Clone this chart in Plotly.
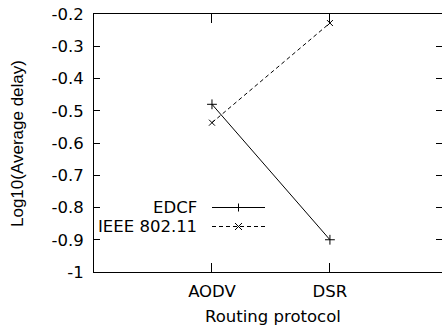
import plotly.graph_objects as go

categories = ["AODV", "DSR"]
cat_pos = [1, 2]
edcf = [-0.48, -0.90]
ieee = [-0.537, -0.228]
y_ticks = [-1, -0.9, -0.8, -0.7, -0.6, -0.5, -0.4, -0.3, -0.2]
y_tick_text = ["-1", "-0.9", "-0.8", "-0.7", "-0.6", "-0.5", "-0.4", "-0.3", "-0.2"]

FONT_H = "DejaVu Sans, Liberation Sans, Arial, sans-serif"
FONT_V = "Liberation Sans, Arial, Helvetica, sans-serif"
FS = 16.5
W, H = 443, 327
L, R, T, B = 94, 1, 14, 55

fig = go.Figure()
fig.add_trace(go.Scatter(
    x=cat_pos, y=edcf, mode="lines+markers", name="EDCF",
    line=dict(color="black", width=1),
    marker=dict(symbol="cross-thin-open", size=7, color="black", line=dict(width=1, color="black")),
    showlegend=False))
fig.add_trace(go.Scatter(
    x=cat_pos, y=ieee, mode="lines+markers", name="IEEE 802.11",
    line=dict(color="black", width=1, dash="4px,3px"),
    marker=dict(symbol="x-thin-open", size=6, color="black", line=dict(width=1, color="black")),
    showlegend=False))

fig.update_layout(
    width=W, height=H,
    margin=dict(l=L, r=R, t=T, b=B),
    paper_bgcolor="white", plot_bgcolor="white",
    font=dict(family=FONT_H, size=FS, color="black"),
    xaxis=dict(range=[0, 2.95], tickvals=cat_pos, ticktext=categories,
               ticks="inside", ticklen=9, tickcolor="black", tickwidth=1,
               showline=True, linecolor="black", linewidth=1, mirror="ticks",
               showgrid=False, zeroline=False, ticklabelstandoff=4,
               tickfont=dict(size=FS, family=FONT_H)),
    yaxis=dict(range=[-1, -0.2], tickvals=y_ticks, ticktext=y_tick_text,
               ticks="inside", ticklen=6, tickcolor="black", tickwidth=1,
               showline=True, linecolor="black", linewidth=1,
               showgrid=False, zeroline=False, ticklabelstandoff=6,
               tickfont=dict(size=FS, family=FONT_H)),
    yaxis2=dict(range=[-1, -0.2], tickvals=y_ticks, overlaying="y", side="right",
                ticks="inside", ticklen=6, tickcolor="black", showticklabels=False,
                showline=False, showgrid=False, zeroline=False),
)
# invisible trace to activate the right-hand mirror tick axis
fig.add_trace(go.Scatter(x=[None], y=[None], yaxis="y2", showlegend=False, hoverinfo="skip"))

pw = W - L - R
ph = H - T - B

def px(x):
    return (x - L) / pw

def py(y):
    return 1 - (y - T) / ph

# axis titles
fig.add_annotation(text="Log10(Average delay)", xref="paper", yref="paper",
                   x=px(17), y=py(144), textangle=-90, showarrow=False,
                   font=dict(size=17, family=FONT_V), xanchor="center", yanchor="middle")
fig.add_annotation(text="Routing protocol", xref="paper", yref="paper",
                   x=px(273), y=py(316), showarrow=False,
                   font=dict(size=FS, family=FONT_H), xanchor="center", yanchor="middle")

# legend (gnuplot style: text left, sample right)
leg = [("EDCF", 207.5, "solid", "plus"), ("IEEE 802.11", 226.5, "dash", "x")]
for label, yy, dash, mk in leg:
    fig.add_annotation(text=label, xref="paper", yref="paper", x=px(199), y=py(yy),
                       showarrow=False, xanchor="right", yanchor="middle",
                       font=dict(size=FS, family=FONT_H))
    fig.add_shape(type="line", xref="paper", yref="paper",
                  x0=px(212), x1=px(265), y0=py(yy), y1=py(yy),
                  line=dict(color="black", width=1, dash="solid" if dash == "solid" else "4px,3px"))
    cx, cy = 238.5, yy
    if mk == "plus":
        path = f"M {px(cx-4)} {py(cy)} L {px(cx+4)} {py(cy)} M {px(cx)} {py(cy-4)} L {px(cx)} {py(cy+4)}"
    else:
        path = (f"M {px(cx-3.5)} {py(cy-3.5)} L {px(cx+3.5)} {py(cy+3.5)} "
                f"M {px(cx-3.5)} {py(cy+3.5)} L {px(cx+3.5)} {py(cy-3.5)}")
    fig.add_shape(type="path", xref="paper", yref="paper", path=path,
                  line=dict(color="black", width=1))

fig.write_html("out.html", config={"displayModeBar": False},
               post_script="document.body.style.margin='0';document.body.style.overflow='hidden';")
